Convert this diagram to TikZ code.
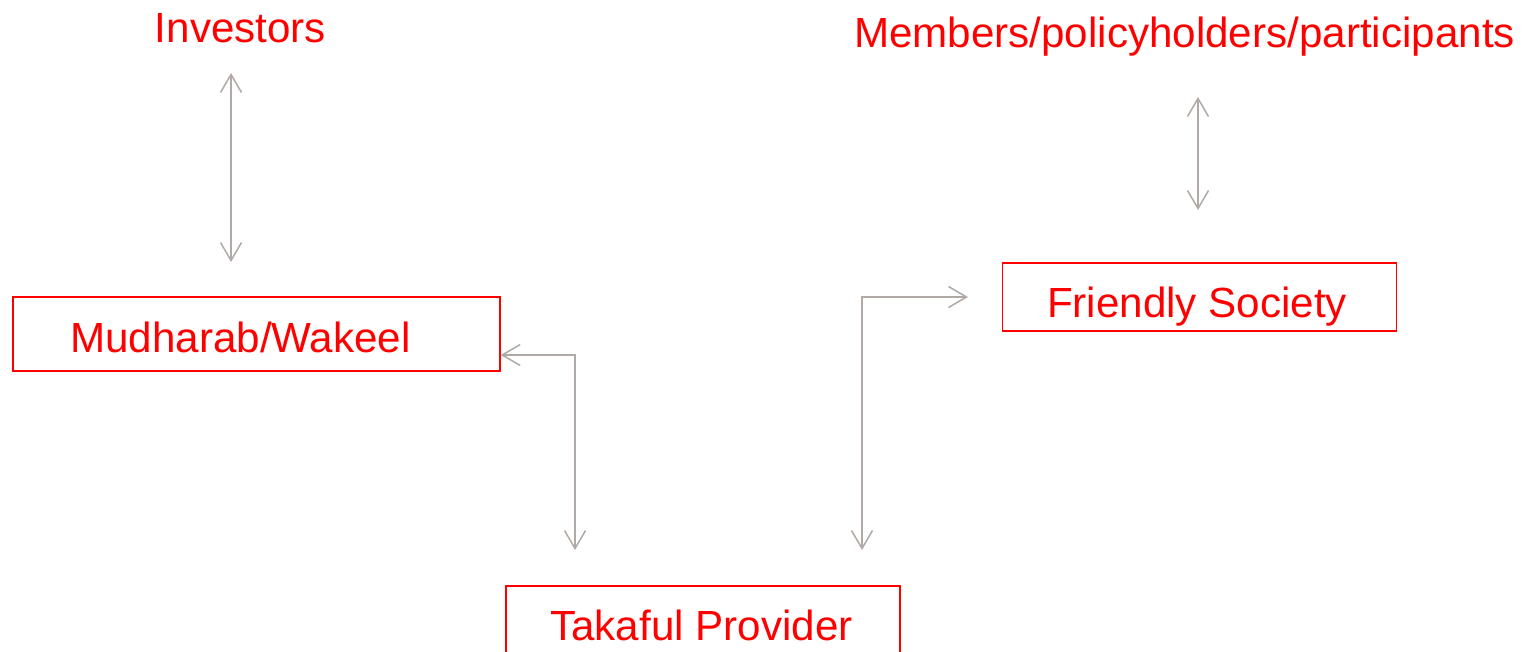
\documentclass[tikz,border=0pt]{standalone}
\usepackage{fontspec}
\setmainfont{Liberation Sans}
\usepackage{tikz}
\usetikzlibrary{arrows.meta}

\definecolor{linkgray}{HTML}{B0A9A5}
\definecolor{boxred}{HTML}{FF0000}

\begin{document}
\begin{tikzpicture}[x=0.02cm, y=-0.02cm,
        lbl/.style={text=boxred, inner sep=0pt, anchor=base, font=\fontsize{24}{29}\selectfont},
        box/.style={draw=boxred, line width=0.03cm, inner sep=0pt},
        link/.style={draw=linkgray, line width=0.03cm, >={Straight Barb[length=0.36cm, width=0.42cm]}, <->}]
        \useasboundingbox (0,0) rectangle (1522,652);

         % investors
        \node[lbl] (inv) at (240.5,43) {Investors};
        \coordinate (inv-a) at (231,73);
        \coordinate (inv-b) at (231,262);
        \draw[link] (inv-a) -- (inv-b);

         % mudharab / wakeel
        \node[box, minimum width=9.74cm, minimum height=1.48cm] (mud) at (256.5,334) {};
        \node[lbl] (mud-t) at (240.5,352) {Mudharab/Wakeel};

         % members
        \node[lbl] (mem) at (1184.5,48) {Members/policyholders/participants};
        \coordinate (mem-a) at (1198,97);
        \coordinate (mem-b) at (1198,210);
        \draw[link] (mem-a) -- (mem-b);

         % friendly society
        \node[box, minimum width=7.88cm, minimum height=1.36cm] (fs) at (1199.5,297) {};
        \node[lbl] (fs-t) at (1197,317) {Friendly Society};

         % takaful provider
        \node[box, minimum width=7.88cm, minimum height=1.6cm] (tp) at (703,626) {};
        \node[lbl] (tp-t) at (701.5,640) {Takaful Provider};

         % elbow links
        \coordinate (tp-a) at (575,550);
        \coordinate (tp-b) at (862,550);
        \coordinate (fs-in) at (968,297);
        \draw[link] (mud.east |- 0,355) -| (tp-a);
        \draw[link] (tp-b) |- (fs-in);
      \end{tikzpicture}
\end{document}
